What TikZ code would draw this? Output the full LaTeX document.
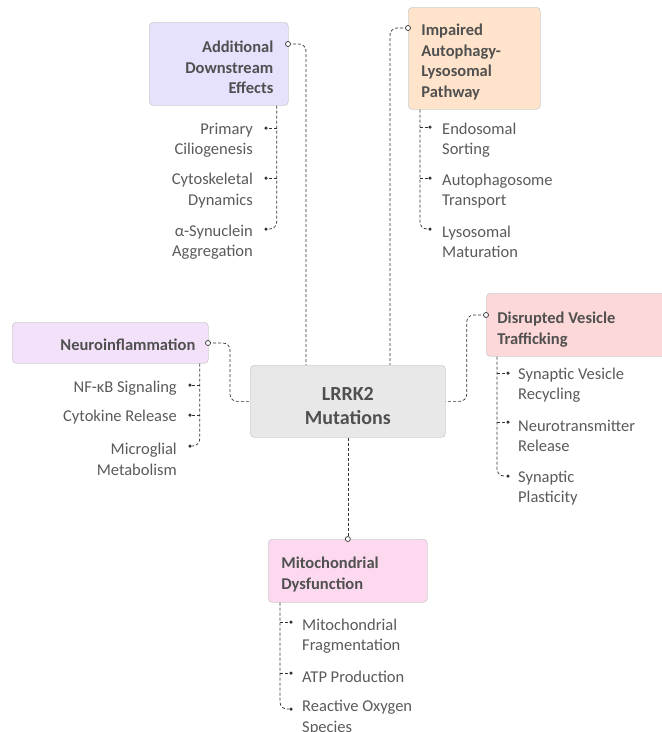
\documentclass[tikz,border=0pt]{standalone}
\usepackage{fontspec}
\setmainfont{Carlito}
\usetikzlibrary{calc}
\definecolor{linecol}{HTML}{333333}
\definecolor{boxline}{HTML}{CFCFCF}
\definecolor{titletext}{HTML}{505050}
\definecolor{childtext}{HTML}{5A5A5A}
\definecolor{addfill}{HTML}{E6E1FC}
\definecolor{impfill}{HTML}{FFE4CB}
\definecolor{neufill}{HTML}{F3E1F9}
\definecolor{cenfill}{HTML}{E8E8E8}
\definecolor{disfill}{HTML}{FDD8D8}
\definecolor{mitfill}{HTML}{FCD9EE}
\newcommand{\tdn}[1]{\rule{0pt}{#1}}
\begin{document}
\begin{tikzpicture}[x=1pt,y=-1pt,
  box/.style={draw=boxline, line width=0.7pt, rounded corners=4pt, inner sep=0pt,
    anchor=north west, text=titletext, font=\fontsize{16.5}{20.5}\selectfont\bfseries},
  child/.style={inner sep=0pt, text=childtext, font=\fontsize{16.5}{20.5}\selectfont},
  conn/.style={draw=linecol, line width=0.7pt, dash pattern=on 3pt off 2pt, rounded corners=7pt},
  port/.style={circle, draw=linecol, fill=white, line width=0.7pt, inner sep=0pt, minimum size=5pt},
  dotn/.style={circle, fill=linecol, inner sep=0pt, minimum size=3.5pt}]
\useasboundingbox (0,0) rectangle (662,732);

% main boxes
\node[box, fill=cenfill, minimum width=195, minimum height=72, align=center,
  font=\fontsize{20}{24}\selectfont\bfseries] (lrrk) at (250,365) {\tdn{23pt}LRRK2\\Mutations};
\node[box, fill=addfill, minimum width=139, minimum height=83, text width=109, align=flush right]
  (add) at (149,22) {\tdn{18.5pt}Additional\\Downstream\\Effects};
\node[box, fill=impfill, minimum width=132, minimum height=102, text width=106, align=flush left]
  (imp) at (408,7) {\tdn{18.5pt}Impaired\\Autophagy-\\Lysosomal\\Pathway};
\node[box, fill=neufill, minimum width=196, minimum height=41, text width=170, align=flush right]
  (neu) at (12,322) {\tdn{14.5pt}Neuroinflammation};
\node[box, fill=disfill, minimum width=186, minimum height=63, text width=164, align=flush left]
  (dis) at (486,293) {\tdn{21.5pt}Disrupted Vesicle\\Trafficking};
\node[box, fill=mitfill, minimum width=159, minimum height=63, text width=133, align=flush left]
  (mit) at (268,539) {\tdn{18.5pt}Mitochondrial\\Dysfunction};

% ports
\coordinate (p1) at (288,44);
\coordinate (p2) at (408,28);
\coordinate (p3) at (208,343);
\coordinate (p4) at (486,315);
\coordinate (ct1) at ($(lrrk.north west)+(56,0)$);
\coordinate (ct2) at ($(lrrk.north west)+(140,0)$);

% main connectors
\draw[conn] (p1) -| (ct1);
\draw[conn] (p2) -| (ct2);
\draw[conn] (p3) -| ($(lrrk.west)+(-20,0)$) -- (lrrk.west);
\draw[conn] (p4) -| ($(lrrk.east)+(21,0)$) -- (lrrk.east);
\draw[conn] (lrrk.south) -- (mit.north);

\node[port] (p1c) at (p1) {};
\node[port] (p2c) at (p2) {};
\node[port] (p3c) at (p3) {};
\node[port] (p4c) at (p4) {};
\node[port] (p5c) at (mit.north) {};

% Additional downstream children
\coordinate (a0) at ($(add.south east)+(-12,0)$);
\node[dotn] (a1d) at (266,128) {};
\node[dotn] (a2d) at (266,178) {};
\node[dotn] (a3d) at (266,229) {};
\draw[conn] (a0) |- (a3d);
\draw[conn] (a1d -| a0) -- (a1d);
\draw[conn] (a2d -| a0) -- (a2d);
\node[child, anchor=east, align=right] (a1) at (253,140) {Primary\\Ciliogenesis};
\node[child, anchor=east, align=right] (a2) at (253,190.5) {Cytoskeletal\\Dynamics};
\node[child, anchor=east, align=right] (a3) at (253,242) {α-Synuclein\\Aggregation};

% Impaired children
\coordinate (b0) at ($(imp.south west)+(12,0)$);
\node[dotn] (b1d) at (430,127) {};
\node[dotn] (b2d) at (430,178) {};
\node[dotn] (b3d) at (430,229) {};
\draw[conn] (b0) |- (b3d);
\draw[conn] (b1d -| b0) -- (b1d);
\draw[conn] (b2d -| b0) -- (b2d);
\node[child, anchor=west, align=left] (b1) at (442,140) {Endosomal\\Sorting};
\node[child, anchor=west, align=left] (b2) at (442,191) {Autophagosome\\Transport};
\node[child, anchor=west, align=left] (b3) at (442,242) {Lysosomal\\Maturation};

% Neuroinflammation children
\coordinate (c0) at ($(neu.south east)+(-9,0)$);
\node[dotn] (c1d) at (190,385) {};
\node[dotn] (c2d) at (190,415) {};
\node[dotn] (c3d) at (190,446) {};
\draw[conn] (c0) |- (c3d);
\draw[conn] (c1d -| c0) -- (c1d);
\draw[conn] (c2d -| c0) -- (c2d);
\node[child, anchor=east, align=right] (c1) at (177,388) {NF-κB Signaling};
\node[child, anchor=east, align=right] (c2) at (177,417) {Cytokine Release};
\node[child, anchor=east, align=right] (c3) at (177,459.5) {Microglial\\Metabolism};

% Disrupted children
\coordinate (d0) at ($(dis.south west)+(11,0)$);
\node[dotn] (d1d) at (508,373) {};
\node[dotn] (d2d) at (508,422) {};
\node[dotn] (d3d) at (508,476) {};
\draw[conn] (d0) |- (d3d);
\draw[conn] (d1d -| d0) -- (d1d);
\draw[conn] (d2d -| d0) -- (d2d);
\node[child, anchor=west, align=left] (d1) at (518,385) {Synaptic Vesicle\\Recycling};
\node[child, anchor=west, align=left] (d2) at (518,436) {Neurotransmitter\\Release};
\node[child, anchor=west, align=left] (d3) at (518,488) {Synaptic\\Plasticity};

% Mitochondrial children
\coordinate (e0) at ($(mit.south west)+(12,0)$);
\node[dotn] (e1d) at (291,622) {};
\node[dotn] (e2d) at (291,673) {};
\node[dotn] (e3d) at (291,709) {};
\draw[conn] (e0) |- (e3d);
\draw[conn] (e1d -| e0) -- (e1d);
\draw[conn] (e2d -| e0) -- (e2d);
\node[child, anchor=west, align=left] (e1) at (302,636) {Mitochondrial\\Fragmentation};
\node[child, anchor=west, align=left] (e2) at (302,677) {ATP Production};
\node[child, anchor=west, align=left] (e3) at (302,717.5) {Reactive Oxygen\\Species};
\end{tikzpicture}
\end{document}
